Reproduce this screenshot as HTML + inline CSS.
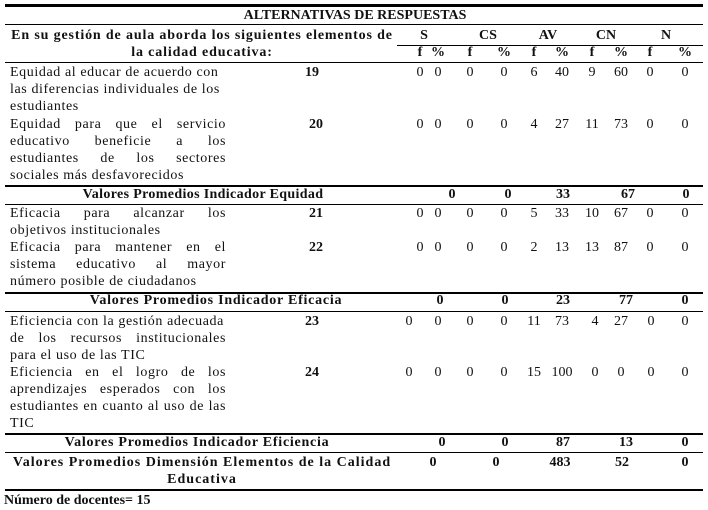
<!DOCTYPE html>
<html><head><meta charset="utf-8"><style>
body{margin:0;width:708px;height:510px;background:#fff;position:relative;font-family:"Liberation Serif",serif;font-size:14px;color:#111;overflow:hidden}
.a{position:absolute;line-height:16px;white-space:nowrap}
.c{position:absolute;line-height:16px;transform:translateX(-50%);white-space:nowrap}
.b{font-weight:bold}
.h{letter-spacing:0.75px}
.l{position:absolute;left:5px;width:698px;background:#000}
.t{position:absolute;left:10px;width:216px;line-height:16px;text-align:justify;text-align-last:justify;white-space:nowrap;letter-spacing:0.6px}
.t.e{text-align-last:left}
</style></head><body>
<div class="l" style="top:4px;height:3px"></div>
<div class="c b" style="left:355px;top:8px">ALTERNATIVAS DE RESPUESTAS</div>
<div class="l" style="top:24px;height:1px"></div>
<div class="c b h" style="left:202px;top:28px;letter-spacing:0.85px">En su gestión de aula aborda los siguientes elementos de</div>
<div class="c b h" style="left:202px;top:45px;letter-spacing:0.85px">la calidad educativa:</div>
<div class="c b" style="left:424px;top:28px">S</div>
<div class="c b" style="left:488px;top:28px">CS</div>
<div class="c b" style="left:548px;top:28px">AV</div>
<div class="c b" style="left:606px;top:28px">CN</div>
<div class="c b" style="left:666px;top:28px">N</div>
<div style="position:absolute;left:397px;width:306px;top:45px;height:1px;background:#000"></div>
<div class="c b" style="left:420px;top:45px">f</div><div class="c b" style="left:438px;top:45px">%</div>
<div class="c b" style="left:470px;top:45px">f</div><div class="c b" style="left:504px;top:45px">%</div>
<div class="c b" style="left:534px;top:45px">f</div><div class="c b" style="left:562px;top:45px">%</div>
<div class="c b" style="left:592px;top:45px">f</div><div class="c b" style="left:621px;top:45px">%</div>
<div class="c b" style="left:650px;top:45px">f</div><div class="c b" style="left:685px;top:45px">%</div>
<div class="l" style="top:62px;height:1px"></div>

<div class="t e" style="top:65px">Equidad al educar de acuerdo con</div>
<div class="t e" style="top:82px">las diferencias individuales de los</div>
<div class="t e" style="top:99px">estudiantes</div>
<div class="c b" style="left:312px;top:65px">19</div>
<div class="c" style="left:420px;top:65px">0</div><div class="c" style="left:438px;top:65px">0</div><div class="c" style="left:470px;top:65px">0</div><div class="c" style="left:504px;top:65px">0</div><div class="c" style="left:534px;top:65px">6</div><div class="c" style="left:562px;top:65px">40</div><div class="c" style="left:592px;top:65px">9</div><div class="c" style="left:621px;top:65px">60</div><div class="c" style="left:650px;top:65px">0</div><div class="c" style="left:685px;top:65px">0</div>

<div class="t" style="top:117px">Equidad para que el servicio</div>
<div class="t" style="top:134px">educativo beneficie a los</div>
<div class="t" style="top:151px">estudiantes de los sectores</div>
<div class="t e" style="top:168px">sociales más desfavorecidos</div>
<div class="c b" style="left:316px;top:117px">20</div>
<div class="c" style="left:420px;top:117px">0</div><div class="c" style="left:438px;top:117px">0</div><div class="c" style="left:470px;top:117px">0</div><div class="c" style="left:504px;top:117px">0</div><div class="c" style="left:534px;top:117px">4</div><div class="c" style="left:562px;top:117px">27</div><div class="c" style="left:592px;top:117px">11</div><div class="c" style="left:621px;top:117px">73</div><div class="c" style="left:650px;top:117px">0</div><div class="c" style="left:685px;top:117px">0</div>
<div class="l" style="top:185px;height:2px"></div>
<div class="c b" style="left:203px;top:187px;letter-spacing:0.35px">Valores Promedios Indicador Equidad</div>
<div class="c b" style="left:452px;top:187px">0</div><div class="c b" style="left:508px;top:187px">0</div><div class="c b" style="left:563px;top:187px">33</div><div class="c b" style="left:628px;top:187px">67</div><div class="c b" style="left:686px;top:187px">0</div>
<div class="l" style="top:204px;height:1px"></div>

<div class="t" style="top:206px">Eficacia para alcanzar los</div>
<div class="t e" style="top:223px">objetivos institucionales</div>
<div class="c b" style="left:316px;top:206px">21</div>
<div class="c" style="left:420px;top:206px">0</div><div class="c" style="left:438px;top:206px">0</div><div class="c" style="left:470px;top:206px">0</div><div class="c" style="left:504px;top:206px">0</div><div class="c" style="left:534px;top:206px">5</div><div class="c" style="left:562px;top:206px">33</div><div class="c" style="left:592px;top:206px">10</div><div class="c" style="left:621px;top:206px">67</div><div class="c" style="left:650px;top:206px">0</div><div class="c" style="left:685px;top:206px">0</div>

<div class="t" style="top:240px">Eficacia para mantener en el</div>
<div class="t" style="top:257px">sistema educativo al mayor</div>
<div class="t e" style="top:274px">número posible de ciudadanos</div>
<div class="c b" style="left:316px;top:240px">22</div>
<div class="c" style="left:420px;top:240px">0</div><div class="c" style="left:438px;top:240px">0</div><div class="c" style="left:470px;top:240px">0</div><div class="c" style="left:504px;top:240px">0</div><div class="c" style="left:534px;top:240px">2</div><div class="c" style="left:562px;top:240px">13</div><div class="c" style="left:592px;top:240px">13</div><div class="c" style="left:621px;top:240px">87</div><div class="c" style="left:650px;top:240px">0</div><div class="c" style="left:685px;top:240px">0</div>
<div class="l" style="top:292px;height:2px"></div>
<div class="c b h" style="left:216px;top:293px">Valores Promedios Indicador Eficacia</div>
<div class="c b" style="left:440px;top:293px">0</div><div class="c b" style="left:505px;top:293px">0</div><div class="c b" style="left:563px;top:293px">23</div><div class="c b" style="left:626px;top:293px">77</div><div class="c b" style="left:685px;top:293px">0</div>
<div class="l" style="top:311px;height:1px"></div>

<div class="t e" style="top:314px">Eficiencia con la gestión adecuada</div>
<div class="t" style="top:331px">de los recursos institucionales</div>
<div class="t e" style="top:348px">para el uso de las TIC</div>
<div class="c b" style="left:312px;top:314px">23</div>
<div class="c" style="left:409px;top:314px">0</div><div class="c" style="left:438px;top:314px">0</div><div class="c" style="left:470px;top:314px">0</div><div class="c" style="left:504px;top:314px">0</div><div class="c" style="left:534px;top:314px">11</div><div class="c" style="left:562px;top:314px">73</div><div class="c" style="left:595px;top:314px">4</div><div class="c" style="left:621px;top:314px">27</div><div class="c" style="left:651px;top:314px">0</div><div class="c" style="left:685px;top:314px">0</div>

<div class="t" style="top:365px">Eficiencia en el logro de los</div>
<div class="t" style="top:382px">aprendizajes esperados con los</div>
<div class="t" style="top:399px">estudiantes en cuanto al uso de las</div>
<div class="t e" style="top:416px">TIC</div>
<div class="c b" style="left:312px;top:365px">24</div>
<div class="c" style="left:409px;top:365px">0</div><div class="c" style="left:438px;top:365px">0</div><div class="c" style="left:470px;top:365px">0</div><div class="c" style="left:504px;top:365px">0</div><div class="c" style="left:534px;top:365px">15</div><div class="c" style="left:562px;top:365px">100</div><div class="c" style="left:595px;top:365px">0</div><div class="c" style="left:621px;top:365px">0</div><div class="c" style="left:651px;top:365px">0</div><div class="c" style="left:685px;top:365px">0</div>
<div class="l" style="top:433px;height:2px"></div>
<div class="c b h" style="left:197px;top:435px">Valores Promedios Indicador Eficiencia</div>
<div class="c b" style="left:442px;top:435px">0</div><div class="c b" style="left:505px;top:435px">0</div><div class="c b" style="left:563px;top:435px">87</div><div class="c b" style="left:626px;top:435px">13</div><div class="c b" style="left:685px;top:435px">0</div>
<div class="l" style="top:452px;height:1px"></div>
<div class="c b" style="left:202px;top:455px;letter-spacing:1px">Valores Promedios Dimensión Elementos de la Calidad</div>
<div class="c b" style="left:202px;top:472px;letter-spacing:1px">Educativa</div>
<div class="c b" style="left:433px;top:455px">0</div><div class="c b" style="left:496px;top:455px">0</div><div class="c b" style="left:560px;top:455px">483</div><div class="c b" style="left:622px;top:455px">52</div><div class="c b" style="left:685px;top:455px">0</div>
<div class="l" style="top:489px;height:2px"></div>
<div class="a b" style="left:4px;top:493px">Número de docentes= 15</div>
</body></html>
